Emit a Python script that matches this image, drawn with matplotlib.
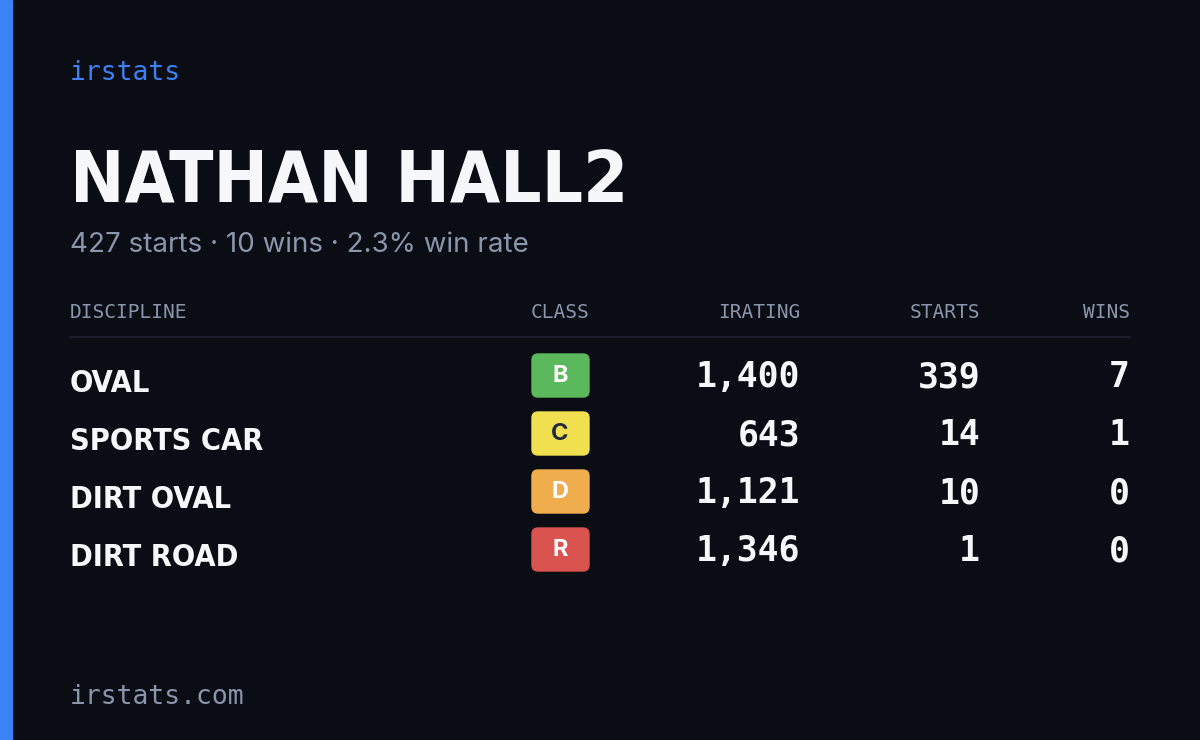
import matplotlib
matplotlib.use("Agg")
import matplotlib.pyplot as plt
from matplotlib.patches import FancyBboxPatch, Rectangle

name = "NATHAN HALL2"
subtitle = "427 starts · 10 wins · 2.3% win rate"
headers = ["DISCIPLINE", "CLASS", "IRATING", "STARTS", "WINS"]
disciplines = ["OVAL", "SPORTS CAR", "DIRT OVAL", "DIRT ROAD"]
classes = ["B", "C", "D", "R"]
class_colors = ["#5cb85c", "#f0e050", "#f0ad4e", "#d9534f"]
iratings = [1400, 643, 1121, 1346]
starts = [339, 14, 10, 1]
wins = [7, 1, 0, 0]

W, H = 1200, 740
fig = plt.figure(figsize=(12, 7.4), dpi=100)
fig.patch.set_facecolor("#0a0d14")
ax = fig.add_axes([0, 0, 1, 1])
ax.set_xlim(0, W); ax.set_ylim(H, 0); ax.axis("off")

ax.add_patch(Rectangle((0, 0), 12, H, color="#3b82f6"))
cond = "DejaVu Sans"
mono = "DejaVu Sans Mono"
ax.text(70, 73, "irstats", color="#3b82f6", fontsize=19, family=mono, va="center")
ax.text(70, 183, name, color="#f5f7fb", fontsize=52, family=cond, weight="bold",
        stretch="condensed", va="center")
ax.text(70, 245, subtitle, color="#8a96ab", fontsize=20, family="Inter", va="center")

for h, x in zip(headers, [70, 593, 800, 980, 1130]):
    if h == "DISCIPLINE":
        ax.text(x, 313, h, color="#8a96ab", fontsize=14, family=mono, va="center")
    elif h == "CLASS":
        ax.text(560, 313, h, color="#8a96ab", fontsize=14, family=mono, ha="center", va="center")
    else:
        ax.text(x, 313, h, color="#8a96ab", fontsize=14, family=mono, ha="right", va="center")
ax.plot([70, 1130], [337, 337], color="#1e2430", lw=1.2)

for i, d in enumerate(disciplines):
    y = 377 + i * 58
    ax.text(70, y + 7, d, color="#f5f7fb", fontsize=22, family=cond, weight="bold",
            stretch="condensed", va="center")
    ax.add_patch(FancyBboxPatch((532, y - 23), 57, 43, boxstyle="round,pad=0,rounding_size=6",
                                color=class_colors[i]))
    ax.text(560, y - 1, classes[i], color="#1f2937" if classes[i] == "C" else "white",
            fontsize=17, family="Inter", weight="bold", ha="center", va="center")
    for val, x in ((f"{iratings[i]:,}", 800), (f"{starts[i]}", 980), (f"{wins[i]}", 1130)):
        ax.text(x, y, val, color="#f5f7fb", fontsize=25, family=mono, weight="bold",
                ha="right", va="center")

ax.text(70, 697, "irstats.com", color="#8a96ab", fontsize=19, family=mono, va="center")
fig.savefig("out.png", dpi=100, facecolor=fig.get_facecolor())
